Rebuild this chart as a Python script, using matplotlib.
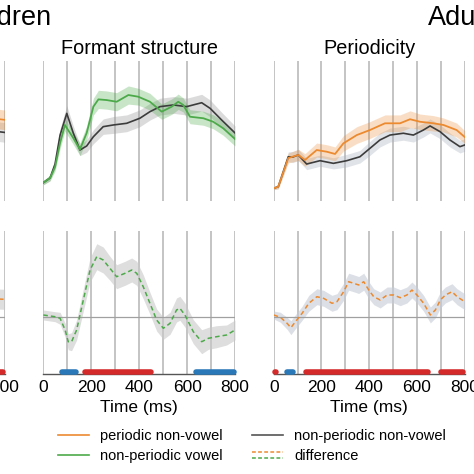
import matplotlib
matplotlib.use("Agg")
import matplotlib.pyplot as plt
from matplotlib.lines import Line2D
from matplotlib.legend_handler import HandlerBase

plt.rcParams["font.family"] = ["Liberation Sans", "DejaVu Sans"]

# ------------- DATA -------------
# colours
ORANGE = "#ec8a30"
GREEN = "#4daa4a"
DARK = "#3c3c3c"
RED = "#d42a2a"
BLUE = "#2a78b8"

# top row, arbitrary amplitude units
form_green_t = [0, 28, 49, 70, 90, 125, 153, 181, 209, 230, 264, 306, 355, 396, 445,
                494, 536, 563, 584, 612, 668, 709, 751, 800]
form_green_v = [1.31, 1.64, 2.43, 4.14, 5.43, 4.5, 3.69, 4.86, 6.74, 7.26, 7.21, 7.09,
                7.57, 7.45, 7.09, 6.38, 6.74, 7.09, 6.86, 6.02, 5.91, 5.66, 5.19, 4.43]
form_green_e = [0.15, 0.2, 0.3, 0.4, 0.45, 0.45, 0.45, 0.5, 0.6, 0.65, 0.65, 0.65,
                0.65, 0.6, 0.6, 0.55, 0.55, 0.55, 0.5, 0.5, 0.5, 0.5, 0.5, 0.5]

form_black_t = [0, 28, 49, 70, 98, 125, 153, 181, 209, 250, 292, 348, 403, 445, 487,
                543, 598, 661, 696, 744, 800]
form_black_v = [1.31, 1.64, 2.64, 4.71, 6.26, 4.86, 3.64, 3.93, 4.59, 5.31, 5.43, 5.55,
                5.91, 6.38, 6.74, 6.86, 6.74, 7.02, 6.62, 5.79, 4.86]
form_black_e = [0.15, 0.2, 0.3, 0.45, 0.55, 0.5, 0.4, 0.45, 0.5, 0.55, 0.6, 0.6,
                0.6, 0.6, 0.6, 0.6, 0.6, 0.6, 0.6, 0.55, 0.5]

per_orange_t = [0, 19, 61, 103, 131, 180, 222, 257, 292, 348, 403, 466, 529, 571, 613,
                669, 711, 766, 800]
per_orange_v = [0.91, 1.02, 3.07, 3.29, 2.93, 3.64, 3.52, 3.36, 4.12, 4.71, 5.07, 5.55,
                5.55, 5.84, 5.66, 5.55, 5.43, 5.07, 4.57]
per_orange_e = [0.1, 0.15, 0.35, 0.4, 0.45, 0.5, 0.5, 0.5, 0.55, 0.6, 0.6, 0.6,
                0.6, 0.6, 0.55, 0.55, 0.5, 0.5, 0.45]

per_black_t = [0, 19, 61, 80, 103, 138, 194, 250, 306, 361, 403, 445, 487, 543, 585,
               627, 655, 697, 738, 780, 800]
per_black_v = [0.91, 1.02, 3.16, 3.14, 3.29, 2.64, 2.88, 2.69, 2.88, 3.16, 3.76, 4.36,
               4.71, 4.84, 4.71, 5.07, 5.36, 4.95, 4.36, 3.88, 4.0]
per_black_e = [0.1, 0.15, 0.35, 0.4, 0.4, 0.4, 0.4, 0.4, 0.45, 0.45, 0.5, 0.5,
               0.5, 0.5, 0.5, 0.5, 0.5, 0.5, 0.5, 0.45, 0.45]

left_t = [700, 750, 800]
left_orange_v = [6.0, 5.9, 5.8]
left_orange_e = [0.7, 0.7, 0.7]
left_black_v = [5.1, 5.0, 4.9]
left_black_e = [0.7, 0.7, 0.7]

# bottom row: difference waves
form_diff_t = [0, 49, 70, 91, 104, 118, 139, 167, 195, 223, 250, 278, 306, 341, 369,
               390, 417, 445, 473, 501, 529, 556, 570, 591, 626, 661, 689, 723, 765, 800]
form_diff_v = [0.23, 0.06, -0.1, -1.27, -2.44, -2.44, -1.27, 1.73, 4.73, 6.06, 5.73,
               4.9, 4.06, 4.4, 4.73, 4.4, 3.06, 1.4, -0.27, -1.1, -0.6, 0.73, 0.9, 0.23,
               -1.44, -2.44, -2.1, -1.94, -1.77, -1.27]
form_diff_e = [0.5, 0.5, 0.6, 0.7, 0.8, 0.9, 1.0, 1.1, 1.2, 1.3, 1.3, 1.2, 1.2, 1.2, 1.2,
               1.2, 1.2, 1.1, 1.1, 1.1, 1.1, 1.2, 1.2, 1.2, 1.2, 1.2, 1.1, 1.1, 1.0, 1.0]

per_diff_t = [0, 28, 56, 72, 91, 119, 147, 181, 209, 244, 265, 293, 314, 335, 356, 377,
              398, 419, 446, 475, 503, 530, 558, 579, 600, 628, 656, 677, 698, 719, 747,
              768, 800]
per_diff_v = [0.23, 0, -0.6, -1.04, -0.44, 0.4, 1.4, 2.06, 1.9, 1.4, 1.56, 2.56, 3.56,
              3.4, 3.23, 3.56, 2.73, 2.06, 1.73, 2.23, 2.23, 1.96, 2.23, 2.73, 2.23, 1.4,
              0.23, 0.73, 1.73, 2.23, 2.56, 2.06, 1.56]
per_diff_e = [0.4, 0.5, 0.6, 0.7, 0.7, 0.7, 0.8, 0.8, 0.8, 0.8, 0.8, 0.85, 0.85, 0.85,
              0.85, 0.85, 0.85, 0.8, 0.8, 0.8, 0.8, 0.8, 0.8, 0.8, 0.8, 0.8, 0.8, 0.8,
              0.8, 0.8, 0.8, 0.8, 0.8]

left_diff_v = [1.9, 1.85, 1.8]
left_diff_e = [1.0, 1.0, 1.0]

# significant clusters (ms)
form_sig = [(72, 142, BLUE), (167, 456, RED), (633, 800, BLUE)]
per_sig = [(0, 15, RED), (51, 85, BLUE), (131, 652, RED), (696, 800, RED)]
left_sig = [(700, 800, RED)]

xticks = [0, 200, 400, 600, 800]
grid_ms = list(range(0, 801, 100))


def lo(v, e):
    return [a - b for a, b in zip(v, e)]


def hi(v, e):
    return [a + b for a, b in zip(v, e)]


def style_top(ax):
    ax.set_xlim(0, 800)
    ax.set_ylim(0, 10)
    for s in ax.spines.values():
        s.set_visible(False)
    ax.set_xticks(grid_ms)
    ax.tick_params(length=0, labelbottom=False, labelleft=False)
    ax.set_yticks([])
    ax.grid(axis="x", color="#b4b4b4", linewidth=1.1)
    ax.set_axisbelow(True)


def style_bottom(ax, sig):
    ax.set_xlim(0, 800)
    ax.set_ylim(-5.67, 8.63)
    for k in ("top", "left", "right"):
        ax.spines[k].set_visible(False)
    ax.spines["bottom"].set_color("#555555")
    ax.spines["bottom"].set_linewidth(1.0)
    ax.set_xticks(grid_ms)
    ax.set_xticklabels([str(t) if t in xticks else "" for t in grid_ms])
    ax.tick_params(axis="x", length=0, pad=4, labelsize=12.5)
    ax.set_yticks([])
    ax.grid(axis="x", color="#b4b4b4", linewidth=1.1)
    ax.set_axisbelow(True)
    ax.axhline(0, color="#a0a0a0", linewidth=0.9, zorder=1)
    for a, b, c in sig:
        ax.plot([a + 6, b - 6], [-5.45, -5.45], color=c, linewidth=4.0,
                solid_capstyle="round", clip_on=False, zorder=4)
    ax.set_xlabel("Time (ms)", fontsize=12.5, labelpad=4)


fig = plt.figure(figsize=(4.74, 4.74), dpi=100)
W = H = 474.0


def add_axes(x0, x1, y0, y1):
    return fig.add_axes([x0 / W, 1 - y1 / H, (x1 - x0) / W, (y1 - y0) / H])


XL = [-186.9, 4.6]
XF = [43.3, 235.0]
XP = [273.7, 464.7]
TOP = [61, 201]
BOT = [231, 374]

# left (cut-off) panel
ax_lt = add_axes(XL[0], XL[1], *TOP)
ax_lt.fill_between(left_t, lo(left_black_v, left_black_e), hi(left_black_v, left_black_e),
                   color="#9a9a9a", alpha=0.3, linewidth=0)
ax_lt.fill_between(left_t, lo(left_orange_v, left_orange_e), hi(left_orange_v, left_orange_e),
                   color=ORANGE, alpha=0.3, linewidth=0)
ax_lt.plot(left_t, left_black_v, color=DARK, linewidth=1.2)
ax_lt.plot(left_t, left_orange_v, color=ORANGE, linewidth=1.2)
style_top(ax_lt)

ax_lb = add_axes(XL[0], XL[1], *BOT)
ax_lb.fill_between(left_t, lo(left_diff_v, left_diff_e), hi(left_diff_v, left_diff_e),
                   color="#c8c8c8", alpha=0.6, linewidth=0)
ax_lb.plot(left_t, left_diff_v, color=ORANGE, linewidth=1.1, linestyle=(0, (3, 2)))
style_bottom(ax_lb, left_sig)

# formant structure
ax_ft = add_axes(XF[0], XF[1], *TOP)
ax_ft.fill_between(form_black_t, lo(form_black_v, form_black_e), hi(form_black_v, form_black_e),
                   color="#9a9a9a", alpha=0.35, linewidth=0)
ax_ft.fill_between(form_green_t, lo(form_green_v, form_green_e), hi(form_green_v, form_green_e),
                   color=GREEN, alpha=0.3, linewidth=0)
ax_ft.plot(form_black_t, form_black_v, color=DARK, linewidth=1.2)
ax_ft.plot(form_green_t, form_green_v, color=GREEN, linewidth=1.3)
style_top(ax_ft)
ax_ft.set_title("Formant structure", fontsize=14.3, pad=5)

ax_fb = add_axes(XF[0], XF[1], *BOT)
ax_fb.fill_between(form_diff_t, lo(form_diff_v, form_diff_e), hi(form_diff_v, form_diff_e),
                   color="#c8c8c8", alpha=0.6, linewidth=0)
ax_fb.plot(form_diff_t, form_diff_v, color=GREEN, linewidth=1.1, linestyle=(0, (3, 2)))
style_bottom(ax_fb, form_sig)

# periodicity
ax_pt = add_axes(XP[0], XP[1], *TOP)
ax_pt.fill_between(per_black_t, lo(per_black_v, per_black_e), hi(per_black_v, per_black_e),
                   color="#a8b0bc", alpha=0.35, linewidth=0)
ax_pt.fill_between(per_orange_t, lo(per_orange_v, per_orange_e), hi(per_orange_v, per_orange_e),
                   color=ORANGE, alpha=0.28, linewidth=0)
ax_pt.plot(per_black_t, per_black_v, color=DARK, linewidth=1.2)
ax_pt.plot(per_orange_t, per_orange_v, color=ORANGE, linewidth=1.3)
style_top(ax_pt)
ax_pt.set_title("Periodicity", fontsize=14.3, pad=5)

ax_pb = add_axes(XP[0], XP[1], *BOT)
ax_pb.fill_between(per_diff_t, lo(per_diff_v, per_diff_e), hi(per_diff_v, per_diff_e),
                   color="#c6ccd6", alpha=0.6, linewidth=0)
ax_pb.plot(per_diff_t, per_diff_v, color=ORANGE, linewidth=1.1, linestyle=(0, (3, 2)))
style_bottom(ax_pb, per_sig)

# group titles (cut off by the crop)
fig.text(52 / W, 1 - 25 / H, "Children", fontsize=19.5, ha="right", va="baseline")
fig.text(427.5 / W, 1 - 25 / H, "Adults", fontsize=19.5, ha="left", va="baseline")


# legend with a two-tone dashed handle for "difference"
class TwoToneHandler(HandlerBase):
    def create_artists(self, legend, orig_handle, xdescent, ydescent, width, height,
                       fontsize, trans):
        yc = height / 2 - ydescent
        arts = []
        for dy, c in ((2.2, ORANGE), (-2.2, GREEN)):
            ln = Line2D([-xdescent, width - xdescent], [yc + dy, yc + dy], color=c,
                        linewidth=1.1, linestyle=(0, (2.5, 1.5)), transform=trans)
            arts.append(ln)
        return arts


h_or = Line2D([], [], color=ORANGE, linewidth=1.2)
h_gr = Line2D([], [], color=GREEN, linewidth=1.2)
h_bk = Line2D([], [], color="#555555", linewidth=1.2)
h_df = Line2D([], [])
fig.legend([h_or, h_gr, h_bk, h_df],
           ["periodic non-vowel", "non-periodic vowel", "non-periodic non-vowel", "difference"],
           handler_map={h_df: TwoToneHandler()},
           ncol=2, frameon=False, fontsize=10.5, loc="upper left",
           bbox_to_anchor=(58 / W, 1 - 429 / H), borderpad=0, borderaxespad=0,
           handlelength=2.1, handletextpad=0.8, columnspacing=2.0, labelspacing=0.4)

fig.savefig("out.png", dpi=100)
